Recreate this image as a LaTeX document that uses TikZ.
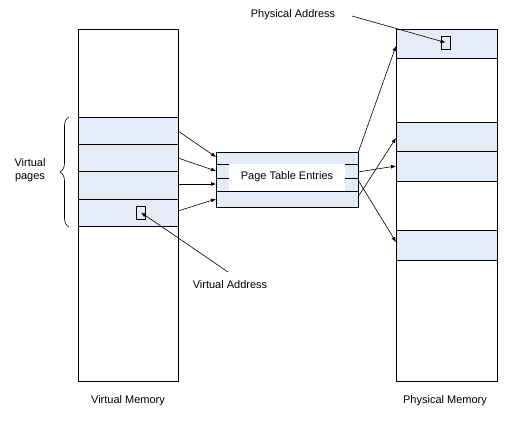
\documentclass[tikz,border=0pt]{standalone}
\usepackage{fontspec}
\setmainfont{Liberation Sans}
\usetikzlibrary{arrows.meta,decorations.pathreplacing}
\definecolor{pageblue}{RGB}{230,236,247}
\tikzset{
  memline/.style={draw=black,line width=0.8pt},
  pagefill/.style={fill=pageblue},
  conn/.style={draw=black,line width=0.6pt,-{Latex[length=5pt,width=4pt]}},
  lbl/.style={font=\fontsize{11pt}{13pt}\selectfont,inner sep=0pt,align=center}
}
\begin{document}
\begin{tikzpicture}[x=1pt,y=-1pt]
\useasboundingbox[fill=white] (0,0) rectangle (511,423);
% ---------- Virtual memory ----------
\fill[pagefill] (78,117) rectangle (178,226);
\draw[memline] (78,29) rectangle (178,381);
\foreach \yy in {117,144,171,199,226} \draw[memline] (78,\yy) -- (178,\yy);
\node[draw=black,line width=0.7pt,minimum width=9pt,minimum height=13pt,inner sep=0pt] (vaddr) at (141,212.5) {};
% ---------- Physical memory ----------
\fill[pagefill] (396,29) rectangle (497,58);
\fill[pagefill] (396,122) rectangle (497,181);
\fill[pagefill] (396,230) rectangle (497,260);
\draw[memline] (396,29) rectangle (497,381);
\foreach \yy in {58,122,151,181,230,260} \draw[memline] (396,\yy) -- (497,\yy);
\node[draw=black,line width=0.7pt,minimum width=9pt,minimum height=13pt,inner sep=0pt] (paddr) at (445.5,42.5) {};
% ---------- Page table ----------
\fill[pagefill] (216,152) rectangle (358,207);
\fill[white] (229,164) rectangle (345,191);
\draw[memline] (216,152) rectangle (358,207);
\draw[memline] (216,191) -- (358,191);
\draw[memline] (216,164) -- (229,164) (216,178) -- (229,178);
\draw[memline] (345,164) -- (358,164) (345,178) -- (358,178);
\node[lbl] (pte) at (287,177) {Page Table Entries};
% ---------- coordinates ----------
\coordinate (v1) at (178,131);
\coordinate (v2) at (178,158);
\coordinate (v3) at (178,184);
\coordinate (v4) at (178,211);
\coordinate (t1) at (216,157);
\coordinate (t2) at (216,171);
\coordinate (t3) at (216,184);
\coordinate (t4) at (216,199);
\coordinate (r1) at (358,153);
\coordinate (r2) at (358,172);
\coordinate (r3) at (358,180);
\coordinate (r4) at (358,197);
\coordinate (p1) at (396,46);
\coordinate (p2) at (396,166);
\coordinate (p3) at (396,242);
\coordinate (p4) at (396,138);
\draw[conn] (v1) -- (t1);
\draw[conn] (v2) -- (t2);
\draw[conn] (v3) -- (t3);
\draw[conn] (v4) -- (t4);
\draw[conn] (r1) -- (p1);
\draw[conn] (r2) -- (p2);
\draw[conn] (r3) -- (p3);
\draw[conn] (r4) -- (p4);
% ---------- labels ----------
\node[lbl] (physlbl) at (293,15) {Physical Address};
\coordinate (physstart) at (352,16);
\draw[conn] (physstart) -- (paddr.center);
\node[lbl] (virtlbl) at (230,285) {Virtual Address};
\coordinate (virtstart) at (228,272);
\draw[conn] (virtstart) -- (vaddr.center);
\node[lbl] (vmem) at (128,401) {Virtual Memory};
\node[lbl] (pmem) at (445,401) {Physical Memory};
\node[lbl] (vpages) at (30,170) {Virtual\\pages};
\draw[line width=0.6pt,decorate,decoration={brace,amplitude=9pt}] (69,227) -- (69,117);
\end{tikzpicture}
\end{document}
